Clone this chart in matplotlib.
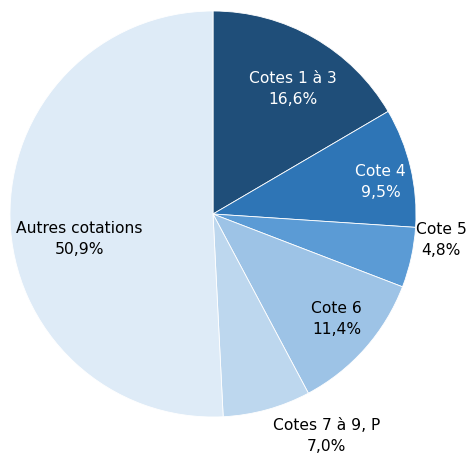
import numpy as np
import matplotlib
matplotlib.use("Agg")
import matplotlib.pyplot as plt

labels = ["Cotes 1 à 3", "Cote 4", "Cote 5", "Cote 6", "Cotes 7 à 9, P", "Autres cotations"]
values = [16.6, 9.5, 4.8, 11.4, 7.0, 50.9]
colors = ["#1F4E79", "#2E75B6", "#5B9BD5", "#9DC3E6", "#BDD7EE", "#DEEBF7"]
text_colors = ["white", "white", "black", "black", "black", "black"]
# label placement: radius factor and angle shift (degrees)
label_r = [0.73, 0.84, 1.13, 0.80, 1.23, 0.67]
label_shift = [-3.0, -2.6, 6.0, 1.0, 11.6, 9.0]

fig = plt.figure(figsize=(4.7, 4.59), dpi=100)
cx, cy, r = 213, 214, 203
ax = fig.add_axes([(cx - r) / 470, (459 - cy - r) / 459, 2 * r / 470, 2 * r / 459])

wedges, _ = ax.pie(values, colors=colors, startangle=90, counterclock=False,
                   radius=1, wedgeprops=dict(edgecolor="white", linewidth=0.6))
ax.set_xlim(-1, 1)
ax.set_ylim(-1, 1)
ax.set_aspect("auto")
ax.axis("off")

for w, lab, v, tc, lr, sh in zip(wedges, labels, values, text_colors, label_r, label_shift):
    ang = np.deg2rad((w.theta1 + w.theta2) / 2 + sh)
    txt = "%s\n%s%%" % (lab, ("%.1f" % v).replace(".", ","))
    ax.text(lr * np.cos(ang), lr * np.sin(ang), txt, ha="center", va="center",
            color=tc, fontsize=11.2, linespacing=1.5)

fig.savefig("out.png", dpi=100)
